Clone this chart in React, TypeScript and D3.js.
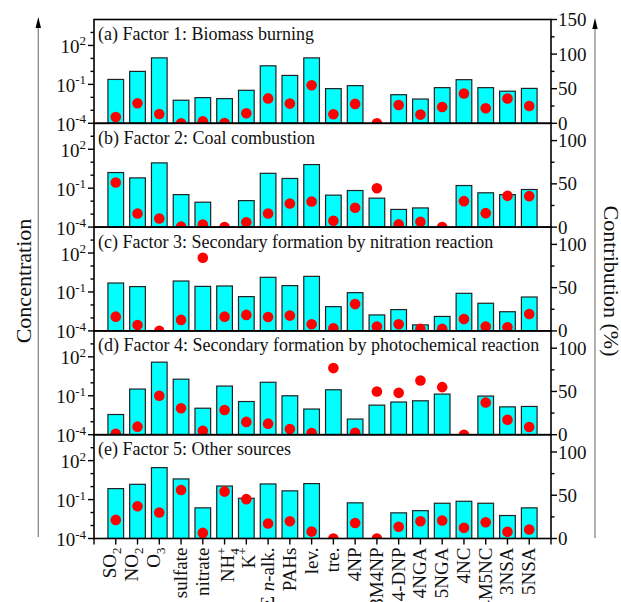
import React from "react";
import * as d3 from "d3";

// Species along the x axis. Markup: _x subscript, ^x superscript, ~text~ italic.
const categories = [
  "SO_2", "NO_2", "O_3", "sulfate", "nitrate", "NH_4^+", "K^+", "Σ ~n~-alk.", "PAHs", "lev.",
  "tre.", "4NP", "3M4NP", "2,4-DNP", "4NGA", "5NGA", "4NC", "4M5NC", "3NSA", "5NSA",
];

const factorTitles = [
  "(a) Factor 1: Biomass burning",
  "(b) Factor 2: Coal combustion",
  "(c) Factor 3: Secondary formation by nitration reaction",
  "(d) Factor 4: Secondary formation by photochemical reaction",
  "(e) Factor 5: Other sources",
];

// Factor profiles: concentration (log axis, null = not resolved) and contribution (%)
const concFactor1 = [0.24, 1.0, 11, 0.006, 0.0095, 0.008, 0.035, 2.7, 0.49, 11, 0.047, 0.08, null, 0.016, 0.0074, 0.056, 0.23, 0.056, 0.03, 0.049];
const contribFactor1 = [9, 29, 13.5, 0, 3, 0.5, 14.5, 36, 28.5, 55, 13, 28, 0, 26.5, 12.6, 23.6, 43, 21.7, 35.8, 25];

const concFactor2 = [1.6, 0.62, 8.9, 0.032, 0.0083, null, 0.011, 1.4, 0.56, 6.6, 0.029, 0.066, 0.017, 0.0023, 0.003, null, 0.16, 0.044, 0.032, 0.079];
const contribFactor2 = [51.6, 15.8, 10, 0.5, 3, 0, 5.5, 15.8, 27.3, 29.6, 7.3, 22.3, 45, 3.1, 6.1, 0, 30, 16.1, 36.1, 35.8];

const concFactor3 = [0.49, 0.26, null, 0.7, 0.27, 0.29, 0.044, 1.35, 0.31, 1.6, 0.0074, 0.089, 0.0017, 0.0044, 0.00029, 0.0013, 0.079, 0.0135, 0.003, 0.041];
const contribFactor3 = [16.5, 6.9, 0, 12.7, 84.5, 16.5, 18.5, 16.1, 17.7, 7.7, 3, 31, 5, 7.7, 2.3, 2.3, 13.8, 5, 4.2, 19.6];

const concFactor4 = [0.0036, 0.33, 39, 1.9, 0.011, 0.56, 0.036, 1.1, 0.1, 0.0095, 0.29, 0.0016, 0.019, 0.033, 0.041, 0.135, null, 0.095, 0.014, 0.015];
const contribFactor4 = [1, 9.3, 45, 30.6, 4.5, 28.5, 14.8, 12.8, 6.5, 2, 77, 2.3, 50, 48.4, 62.7, 55, 0, 37.3, 17.3, 8.9];

const concFactor5 = [0.7, 1.5, 29, 3.9, 0.023, 1.1, 0.126, 1.6, 0.47, 1.7, null, 0.056, null, 0.0095, 0.014, 0.052, 0.074, 0.052, 0.0059, 0.023];
const contribFactor5 = [21.5, 37.3, 30, 56, 6.5, 54.2, 45.5, 17.3, 20, 8, 0, 18, 0, 13.5, 20, 20.8, 12.3, 18.8, 7.7, 10.4];

const concentrations = [concFactor1, concFactor2, concFactor3, concFactor4, concFactor5];
const contributions = [contribFactor1, contribFactor2, contribFactor3, contribFactor4, contribFactor5];
const contributionMax = [150, 120, 120, 120, 120];

const concDomain: [number, number] = [1e-4, 1e4];
const concExponents = [-4, -3, -2, -1, 0, 1, 2, 3];

const W = 621;
const H = 602;
const LEFT = 94;
const RIGHT = 551;
const TOP = 19.5;
const PANEL_H = 103.8;
const FONT = "'Liberation Serif', 'Times New Roman', serif";

// Turns the small markup into tspans (subscript, superscript, italic).
function richLabel(label: string, subSize: number) {
  const re = /_(\w)|\^([+\-\w]+)|~([^~]+)~|([^_^~]+)/g;
  const parts: React.ReactNode[] = [];
  let shift = 0;
  let lastSub = false;
  let m: RegExpExecArray | null;
  let k = 0;
  while ((m = re.exec(label))) {
    if (m[1] !== undefined) {
      const dy = 5 - shift;
      shift = 5;
      parts.push(<tspan key={k++} dy={dy} fontSize={subSize}>{m[1]}</tspan>);
      lastSub = true;
    } else if (m[2] !== undefined) {
      const dy = -8 - shift;
      shift = -8;
      parts.push(
        <tspan key={k++} dy={dy} dx={lastSub ? -subSize * 0.5 : 0} fontSize={subSize}>{m[2]}</tspan>
      );
      lastSub = false;
    } else if (m[3] !== undefined) {
      const dy = -shift;
      shift = 0;
      parts.push(<tspan key={k++} dy={dy} fontStyle="italic">{m[3]}</tspan>);
      lastSub = false;
    } else {
      const dy = -shift;
      shift = 0;
      parts.push(<tspan key={k++} dy={dy} xmlSpace="preserve">{m[4]}</tspan>);
      lastSub = false;
    }
  }
  return parts;
}

export default function App() {
  const x = d3.scaleLinear().domain([-1, categories.length]).range([LEFT, RIGHT]);
  const step = x(1) - x(0);
  const barW = step * 0.72;
  const lastBottom = TOP + PANEL_H * factorTitles.length;

  return (
    <svg
      width={W}
      height={H}
      style={{ position: "absolute", left: 0, top: 0, background: "#fff" }}
      fontFamily={FONT}
    >
      <defs>
        {factorTitles.map((_, i) => (
          <clipPath id={`panel-clip-${i}`} key={i}>
            <rect x={LEFT} y={TOP + i * PANEL_H} width={RIGHT - LEFT} height={PANEL_H} />
          </clipPath>
        ))}
      </defs>

      {factorTitles.map((title, i) => {
        const top = TOP + i * PANEL_H;
        const bottom = top + PANEL_H;
        const yC = d3.scaleLog().domain(concDomain).range([bottom, top]);
        const yP = d3.scaleLinear().domain([0, contributionMax[i]]).range([bottom, top]);
        const pctTicks = d3.range(0, contributionMax[i] + 0.01, 25);
        const conc = concentrations[i];
        const contrib = contributions[i];
        return (
          <g key={i}>
            <text x={98} y={top + 20.5} fontSize={18} fill="#111">{title}</text>
            <g clipPath={`url(#panel-clip-${i})`}>
              {conc.map((v, j) =>
                v == null ? null : (
                  <rect
                    key={j}
                    x={x(j) - barW / 2}
                    y={yC(v)}
                    width={barW}
                    height={bottom - yC(v)}
                    fill="#00FFFF"
                    stroke="#222"
                    strokeWidth={1.2}
                  />
                )
              )}
              {contrib.map((v, j) => (
                <circle key={j} cx={x(j)} cy={yP(v)} r={5.3} fill="#FF0000" />
              ))}
            </g>
            <rect x={LEFT} y={top} width={RIGHT - LEFT} height={PANEL_H} fill="none" stroke="#000" strokeWidth={1.6} />

            {/* left log axis */}
            {concExponents.map((e) => {
              const major = (e + 4) % 3 === 0;
              const ty = yC(Math.pow(10, e));
              return (
                <g key={e}>
                  <line x1={LEFT - (major ? 6 : 3.5)} x2={LEFT} y1={ty} y2={ty} stroke="#000" strokeWidth={1.4} />
                  {major && (
                    <text x={86} y={ty + 7.5} textAnchor="end" fontSize={19} fill="#111">
                      <tspan>10</tspan>
                      <tspan dy={-7.5} fontSize={13}>{String(e)}</tspan>
                    </text>
                  )}
                </g>
              );
            })}

            {/* right contribution axis */}
            {pctTicks.map((t) => {
              const major = t % 50 === 0;
              const ty = yP(t);
              return (
                <g key={t}>
                  <line x1={RIGHT} x2={RIGHT + (major ? 6 : 3.5)} y1={ty} y2={ty} stroke="#000" strokeWidth={1.4} />
                  {major && (
                    <text x={558} y={ty + 6.5} fontSize={19} fill="#111">{t}</text>
                  )}
                </g>
              );
            })}
          </g>
        );
      })}

      {/* bottom category axis */}
      {d3.range(-1, categories.length + 1).map((j) => (
        <line key={j} x1={x(j)} x2={x(j)} y1={lastBottom} y2={lastBottom + 6} stroke="#000" strokeWidth={1.4} />
      ))}
      {categories.map((c, j) => {
        const hasSup = c.includes("^");
        const hasSub = c.includes("_");
        const base = hasSup ? 9 : hasSub ? 0.5 : 6;
        return (
          <text
            key={c}
            transform={`translate(${x(j)},${lastBottom + 9}) rotate(-90)`}
            y={base}
            textAnchor="end"
            fontSize={19}
            fill="#111"
          >
            {richLabel(c, 13)}
          </text>
        );
      })}

      {/* axis arrows and titles */}
      <line x1={38.3} x2={38.3} y1={26} y2={537} stroke="#888" strokeWidth={1.3} />
      <path d="M38.3,17 L35.6,28 L41,28 Z" fill="#000" />
      <line x1={595} x2={595} y1={27} y2={538} stroke="#888" strokeWidth={1.3} />
      <path d="M595,18 L592.3,29 L597.7,29 Z" fill="#000" />
      <text transform="translate(23,281) rotate(-90)" textAnchor="middle" dominantBaseline="central" fontSize={22} fill="#111">
        Concentration
      </text>
      <text transform="translate(611,281) rotate(90)" textAnchor="middle" dominantBaseline="central" fontSize={22} fill="#111">
        Contribution (%)
      </text>
    </svg>
  );
}
